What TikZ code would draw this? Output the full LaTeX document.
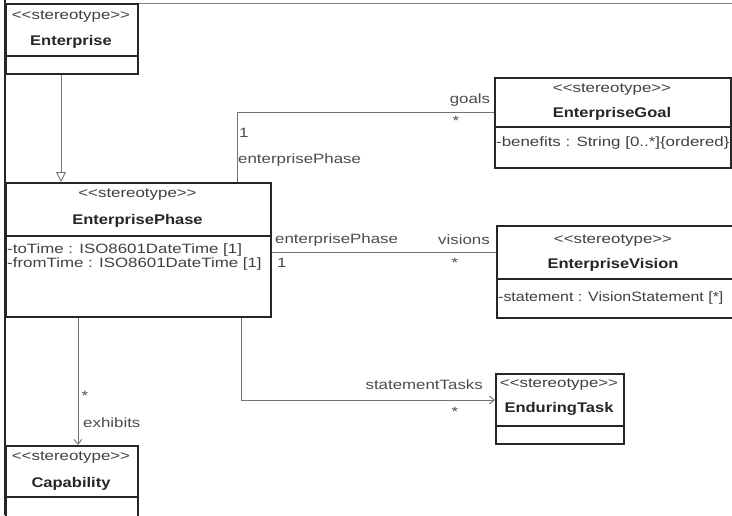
\documentclass[tikz,border=0pt]{standalone}
\usepackage{fontspec}
\setmainfont{Liberation Sans}
\newfontfamily\umlA[FakeStretch=1.25]{Liberation Sans}
\newfontfamily\umlN[FakeStretch=1.18]{Liberation Sans}
\usetikzlibrary{arrows.meta,calc}
\begin{document}
\begin{tikzpicture}[x=1pt,y=-1pt,
  cls/.style={draw=black!85, line width=1.6pt, anchor=north west, inner sep=0pt, fill=white},
  div/.style={draw=black!85, line width=1.3pt},
  conn/.style={draw=black!55, line width=0.9pt},
  st/.style={font=\umlA\fontsize{13.5}{15}\selectfont, text=black!75, inner sep=0pt},
  nm/.style={font=\umlN\bfseries\fontsize{14}{16}\selectfont, text=black!85, inner sep=0pt},
  attr/.style={font=\umlA\fontsize{13.5}{15}\selectfont, text=black!75, inner sep=0pt, anchor=west},
  lb/.style={font=\umlA\fontsize{13.5}{15}\selectfont, text=black!70, inner sep=0pt},
  openarrow/.style={-{Straight Barb[length=5pt,width=8pt]}},
]
\useasboundingbox (0,0) rectangle (732,515);
\clip (0,0) rectangle (732,515);
\fill[white] (0,0) rectangle (732,515);

% frame
\draw[black!50, line width=1pt] (5,3) -- (732,3);
\draw[black!85, line width=1.6pt] (5,0) -- (5,515);

% class boxes
\node[cls, minimum width=132pt, minimum height=70pt] (ent) at (5,3) {};
\node[cls, minimum width=265pt, minimum height=134pt] (ep) at (5,182) {};
\node[cls, minimum width=236pt, minimum height=90pt] (goal) at (494,77) {};
\node[cls, minimum width=236pt, minimum height=92pt] (vis) at (496,225) {};
\node[cls, minimum width=128pt, minimum height=70pt] (task) at (495,373) {};
\node[cls, minimum width=132pt, minimum height=80pt] (cap) at (5,445) {};

% dividers
\draw[div] ($(ent.north west)+(0,53)$) -- ($(ent.north east)+(0,53)$);
\draw[div] ($(ep.north west)+(0,54)$) -- ($(ep.north east)+(0,54)$);
\draw[div] ($(goal.north west)+(0,50)$) -- ($(goal.north east)+(0,50)$);
\draw[div] ($(vis.north west)+(0,54)$) -- ($(vis.north east)+(0,54)$);
\draw[div] ($(task.north west)+(0,53)$) -- ($(task.north east)+(0,53)$);
\draw[div] ($(cap.north west)+(0,52)$) -- ($(cap.north east)+(0,52)$);

% texts in boxes
\node[st] (entS) at (71,17) {<<stereotype>>};
\node[nm] (entN) at (71,42) {Enterprise};
\node[st] (epS) at (137.5,195) {<<stereotype>>};
\node[nm] (epN) at (137.5,221) {EnterprisePhase};
\node[attr] (epA1) at (7,250) {-toTime : ISO8601DateTime [1]};
\node[attr] (epA2) at (7,264) {-fromTime : ISO8601DateTime [1]};
\node[st] (goalS) at (612,90) {<<stereotype>>};
\node[nm] (goalN) at (612,114) {EnterpriseGoal};
\node[attr] (goalA) at (496,143) {-benefits : String [0..*]\{ordered\}};
\node[st] (visS) at (613,241) {<<stereotype>>};
\node[nm] (visN) at (613,265) {EnterpriseVision};
\node[attr, font=\umlN\fontsize{13.5}{15}\selectfont] (visA) at (498,298) {-statement : VisionStatement [*]};
\node[st] (taskS) at (559,385) {<<stereotype>>};
\node[nm] (taskN) at (559,409) {EnduringTask};
\node[st] (capS) at (71,458) {<<stereotype>>};
\node[nm] (capN) at (71,484) {Capability};

% connector end points
\coordinate (genS) at ($(ent.south west)+(56,0)$);
\coordinate (goalS0) at ($(ep.north west)+(232,0)$);
\coordinate (goalE) at ($(goal.north west)+(0,35)$);
\coordinate (visS0) at ($(ep.north east)+(0,70)$);
\coordinate (taskS0) at ($(ep.south west)+(236,0)$);
\coordinate (taskE) at ($(task.north west)+(0,27)$);
\coordinate (exS) at ($(ep.south west)+(73,0)$);

% connectors
\draw[conn, -{Triangle[open, length=10pt, width=10pt]}] (genS) -- (genS |- ep.north);
\draw[conn] (goalS0) |- (goalE);
\draw[conn] (visS0) -- (visS0 -| vis.west);
\draw[conn, openarrow] (taskS0) |- (taskE);
\draw[conn, openarrow] (exS) -- (exS |- cap.north);

% connector labels
\node[lb] (lgoals) at (470,100) {goals};
\node[lb] (lgoalsm) at (456,121) {*};
\node[lb, anchor=west] (lgone) at (239,133) {1};
\node[lb, anchor=west] (lgep) at (238,160) {enterprisePhase};
\node[lb, anchor=west] (lvep) at (275,240) {enterprisePhase};
\node[lb] (lvis) at (464,240) {visions};
\node[lb, anchor=west] (lvone) at (277,263) {1};
\node[lb] (lvism) at (455,263) {*};
\node[lb, anchor=east] (lst) at (483,385) {statementTasks};
\node[lb] (lstm) at (455,412) {*};
\node[lb] (lexm) at (85,396) {*};
\node[lb, anchor=west] (lex) at (83,423) {exhibits};
\end{tikzpicture}
\end{document}
